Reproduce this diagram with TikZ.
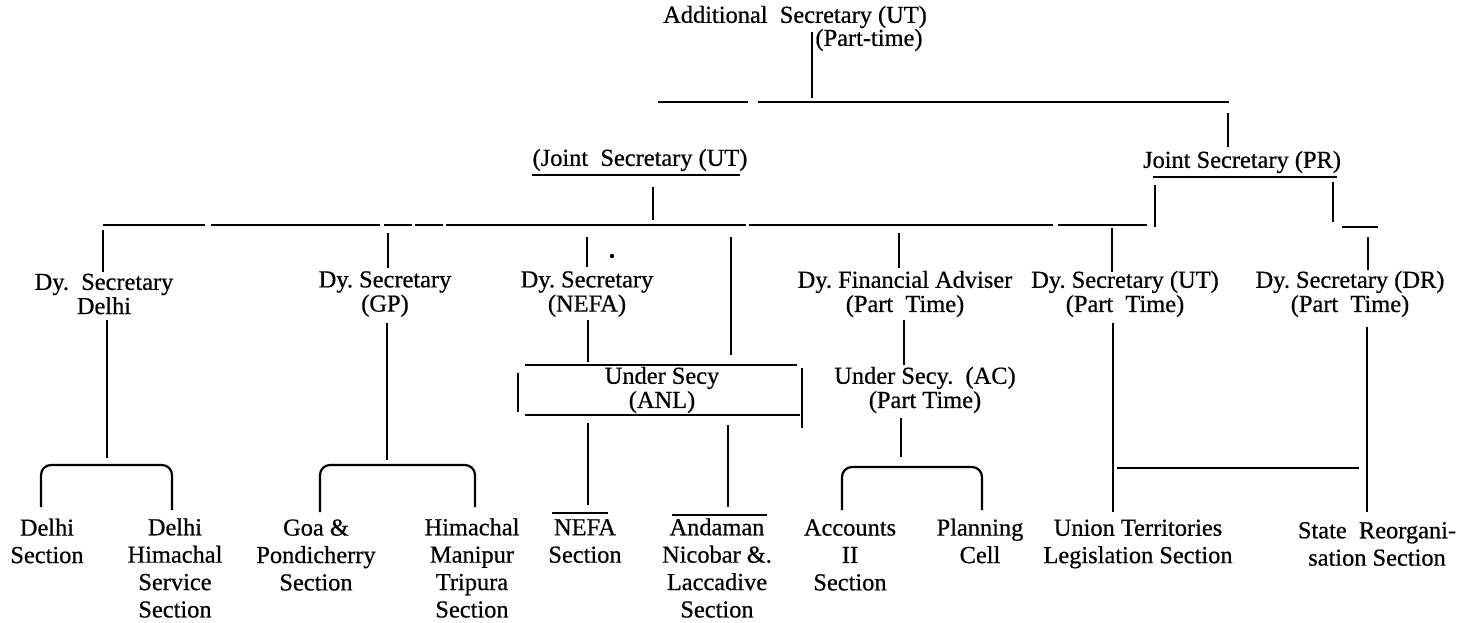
\documentclass[tikz,border=0pt]{standalone}
\usepackage{fontspec}
\setmainfont{Liberation Serif}[FakeBold=0.6]
\frenchspacing
\begin{document}
\begin{tikzpicture}[x=0.5pt,y=-0.5pt,
  lbl/.style={inner sep=0pt, align=center, font=\fontsize{12.2}{11}\selectfont},
  sec/.style={inner sep=0pt, align=center, font=\fontsize{12.2}{13.7}\selectfont},
  every path/.append style={line width=1.1pt}]
\fill[white] (0,0) rectangle (1478,622);
\useasboundingbox (0,0) rectangle (1478,622);

% ---------- nodes ----------
\node[lbl] (add1) at (795,17) {Additional\ \ Secretary (UT)};
\node[lbl] (add2) at (869,40) {(Part-time)};
\node[lbl] (jsut) at (640,160) {(Joint\ \ Secretary (UT)};
\node[lbl] (jspr) at (1242,162) {Joint Secretary (PR)};

\node[lbl] (dsd)   at (104,294) {Dy.\ \ Secretary\\Delhi};
\node[lbl] (dsgp)  at (385,294) {Dy. Secretary\\(GP)};
\node[lbl] (dsnefa) at (587,294) {Dy. Secretary\\(NEFA)};
\node[lbl] (dfa)   at (905,294) {Dy. Financial Adviser\\(Part\ \ Time)};
\node[lbl] (dsut)  at (1125,294) {Dy. Secretary (UT)\\(Part\ \ Time)};
\node[lbl] (dsdr)  at (1350,294) {Dy. Secretary (DR)\\(Part\ \ Time)};

\node[lbl] (usanl) at (662,390) {Under Secy\\(ANL)};
\node[lbl] (usac)  at (925,390) {Under Secy.\ \ (AC)\\(Part Time)};

\node[sec] (delsec) at (47,541) {Delhi\\Section};
\node[sec] (dhss)   at (175,568) {Delhi\\Himachal\\Service\\Section};
\node[sec] (goa)    at (316,555) {Goa \&\\Pondicherry\\Section};
\node[sec] (hmt)    at (472,568) {Himachal\\Manipur\\Tripura\\Section};
\node[sec] (nefas)  at (585,541) {NEFA\\Section};
\node[sec] (anc)    at (717,568) {Andaman\\Nicobar \&.\\Laccadive\\Section};
\node[sec] (acc)    at (850,555) {Accounts\\II\\Section};
\node[sec] (plan)   at (980,541) {Planning\\Cell};
\node[sec] (utls)   at (1138,544) {Union Territories\\Legislation Section};
\node[sec] (sr)     at (1377,544) {State\ \ Reorgani-\\sation Section};

% ---------- top level ----------
\coordinate (topL) at (658,102);
\coordinate (topR) at (1229,102);
\draw (812,32) -- (812,98);
\draw (topL) -- (748,102) (758,102) -- (topR);
\draw (1228,113) -- (1228,147);

% Joint Secretary (UT)
\draw (532,175) -- (740,175);
\draw (653,187) -- (653,220);

% main bus
\coordinate (busL) at (103,225);
\coordinate (busR) at (1147,225);
\draw (busL) -- (205,225) (211,225) -- (380,225) (384,225) -- (412,225)
      (415,225) -- (443,225) (446,225) -- (746,225) (749,225) -- (1053,225)
      (1058,225) -- (busR);

% Joint Secretary (PR)
\draw (1153,177) -- (1337,177);
\draw (1155,185) -- (1155,227);
\draw (1333,182) -- (1333,222);
\draw (1342,227) -- (1378,227);

% verticals to Dy. level
\draw (103,230) -- (103,272);
\draw (388,233) -- (388,268);
\draw (587,237) -- (587,267);
\draw (731,237) -- (731,355);
\draw (899,233) -- (899,268);
\draw (1112,228) -- (1112,272);
\draw (1368,237) -- (1368,270);
\fill (612,256) circle (2.2);

% ---------- Delhi ----------
\draw (107,320) -- (107,458);
\draw[rounded corners=5] (41,507) -- (41,465) -- (172,465) -- (172,510);

% ---------- GP ----------
\draw (387,323) -- (387,460);
\draw[rounded corners=5] (320,512) -- (320,465) -- (475,465) -- (475,507);

% ---------- NEFA / ANL ----------
\draw (588,320) -- (588,362);
\draw (525,365) -- (797,365);
\draw (525,415) -- (800,415);
\draw (518,373) -- (518,412);
\draw (802,368) -- (802,428);
\draw (588,423) -- (588,505);
\draw (728,425) -- (728,507);
\draw (552,513) -- (608,513);
\draw (672,515) -- (767,515);

% ---------- Financial ----------
\draw (904,320) -- (904,365);
\draw (901,418) -- (901,457);
\draw[rounded corners=5] (842,510) -- (842,467) -- (982,467) -- (982,510);

% ---------- UT / DR ----------
\draw (1113,323) -- (1113,512);
\draw (1367,327) -- (1367,512);
\draw (1117,468) -- (1359,468);
\end{tikzpicture}
\end{document}
